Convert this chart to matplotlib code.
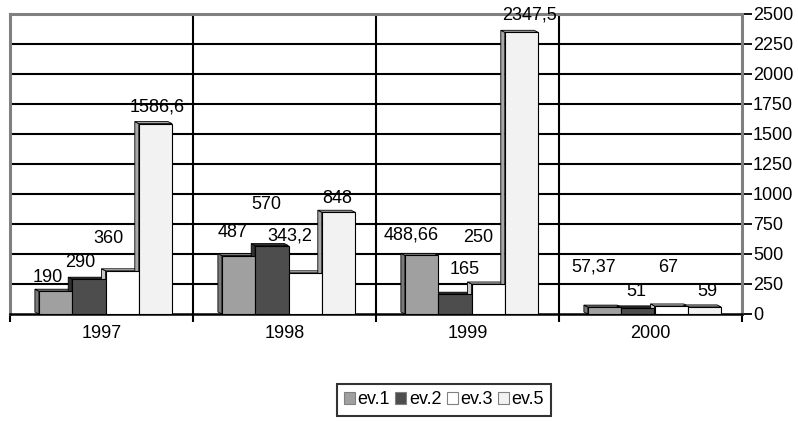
import matplotlib
matplotlib.use("Agg")
import matplotlib.pyplot as plt
from matplotlib.patches import Polygon, Rectangle
import numpy as np

plt.rcParams['font.family'] = ['Liberation Sans', 'DejaVu Sans']

categories = ['1997', '1998', '1999', '2000']
series_names = ['ev.1', 'ev.2', 'ev.3', 'ev.5']
ev1 = [190, 487, 488.66, 57.37]
ev2 = [290, 570, 165, 51]
ev3 = [360, 343.2, 250, 67]
ev5 = [1586.6, 848, 2347.5, 59]
y_ticks = list(range(0, 2501, 250))

# style
front_colors = ['#A0A0A0', '#4D4D4D', '#FFFFFF', '#F2F2F2']
side_colors = ['#7A7A7A', '#303030', '#C8C8C8', '#A8A8A8']
# label offsets in pixels (dx, dy of label centre from bar-top centre)
label_dx = [[-8, -9, -14, 2], [-6, -6, -15, -1], [-10, 10, -10, 8], [-11, -2, -3, 3]]
label_dy = [[14, 17, 32, 17], [23, 41, 37, 14], [20, 25, 46, 17], [40, 16, 38, 15]]

W, H = 798, 421
fig = plt.figure(figsize=(W / 100, H / 100), dpi=100)
ax = fig.add_axes([10 / W, 1 - 314 / H, (742 - 10) / W, 300 / H])

ax.set_xlim(-0.5, 3.5)
ax.set_ylim(0, 2500)

series = [ev1, ev2, ev3, ev5]
cat_px = (742 - 10) / 4.0
bw = 33.3 / cat_px
shift = 4 / cat_px
dx = 4 / cat_px
dy = 2 / 0.12

# grid
for t in y_ticks[1:-1]:
    ax.axhline(t, color='black', lw=1.5, zorder=1)
for b in [0.5, 1.5, 2.5]:
    ax.axvline(b, color='black', lw=1.5, zorder=1)

for si, vals in enumerate(series):
    for ci, v in enumerate(vals):
        xc = ci + (si - 1.5) * bw + shift
        x0, x1 = xc - bw / 2, xc + bw / 2
        side = Polygon([(x0, 0), (x0 - dx, dy), (x0 - dx, v + dy), (x0, v)],
                       closed=True, facecolor=side_colors[si], edgecolor='black', lw=0.6, zorder=2)
        top = Polygon([(x0, v), (x0 - dx, v + dy), (x1 - dx, v + dy), (x1, v)],
                      closed=True, facecolor=side_colors[si], edgecolor='black', lw=0.6, zorder=2)
        ax.add_patch(side)
        ax.add_patch(top)
        front = Rectangle((x0, 0), bw, v, facecolor=front_colors[si], edgecolor='black', lw=0.8, zorder=3)
        ax.add_patch(front)
        lbl = f"{v:g}".replace('.', ',')
        ax.annotate(lbl, (xc, v), xytext=(label_dx[ci][si], label_dy[ci][si]),
                    textcoords='offset pixels', ha='center', va='center', fontsize=13, zorder=5,
                    annotation_clip=False)

# spines
for s in ['left', 'top', 'right']:
    ax.spines[s].set_color('#808080')
    ax.spines[s].set_linewidth(2.2)
ax.spines['bottom'].set_color('black')
ax.spines['bottom'].set_linewidth(1.8)

ax.yaxis.tick_right()
ax.set_yticks(y_ticks)
ax.set_yticklabels([str(t) for t in y_ticks])
ax.tick_params(axis='y', direction='out', length=7, width=1.3, pad=1, labelsize=13,
               color='black', labelcolor='black')

ax.set_xticks([-0.5, 0.5, 1.5, 2.5, 3.5])
ax.set_xticklabels([])
ax.set_xticks([0, 1, 2, 3], minor=True)
ax.set_xticklabels(categories, minor=True)
ax.tick_params(axis='x', which='major', direction='out', length=6, width=1.5)
ax.tick_params(axis='x', which='minor', length=0, pad=8, labelsize=13)

handles = [Rectangle((0, 0), 1, 1, facecolor=front_colors[i], edgecolor='#808080', lw=0.8)
           for i in range(4)]
leg = fig.legend(handles, series_names, loc='center', bbox_to_anchor=(444 / W, 1 - 400 / H),
                 ncol=4, frameon=True, fancybox=False, fontsize=13, handlelength=0.6,
                 handleheight=0.6, handletextpad=0.15, columnspacing=0.3, borderpad=0.4,
                 borderaxespad=0)
leg.get_frame().set_edgecolor('black')
leg.get_frame().set_linewidth(1.5)

fig.savefig('out.png', dpi=100)
